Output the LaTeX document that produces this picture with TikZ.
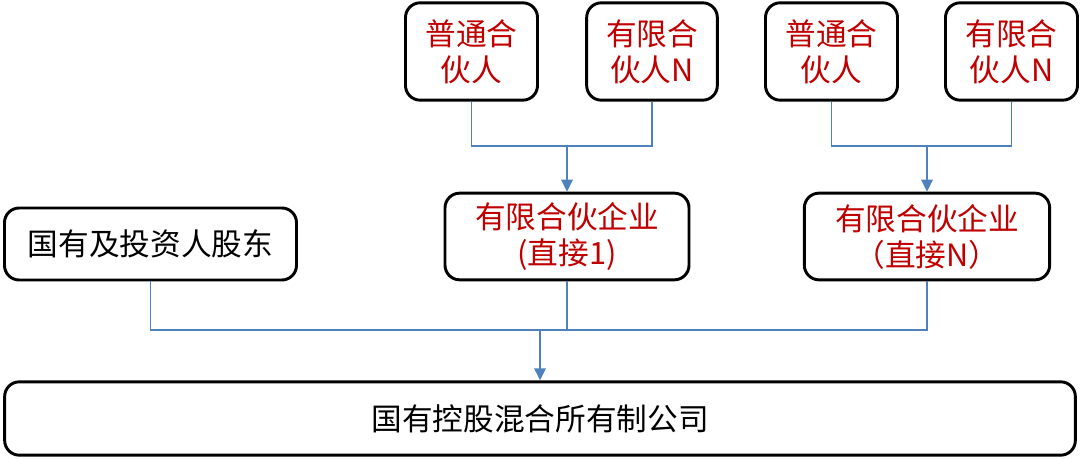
\documentclass[tikz,border=0pt]{standalone}
\usepackage{fontspec}
\newfontfamily\cjk{Noto Sans CJK SC}
\usetikzlibrary{arrows.meta}
\definecolor{linkblue}{HTML}{4F81BD}
\definecolor{redtxt}{HTML}{C00000}
\tikzset{
  box/.style={draw=black, line width=2.2pt, rounded corners=11pt, align=center,
    font=\cjk\fontsize{23}{27}\selectfont, inner sep=0pt, anchor=center},
  redbox/.style={box, text=redtxt},
  conn/.style={draw=linkblue, line width=1.1pt},
  arr/.style={draw=linkblue, line width=1.5pt, -{Triangle[length=9pt,width=8.5pt]}}
}
\begin{document}
\begin{tikzpicture}[x=0.75pt,y=-0.75pt]
\useasboundingbox (0,0) rectangle (1080,459);
\node[redbox, minimum width=99pt, minimum height=73pt] (gpa) at (471.5,51.5) {普通合\\伙人};
\node[redbox, minimum width=98pt, minimum height=73pt] (lpa) at (652,51.5) {有限合\\伙人N};
\node[redbox, minimum width=99pt, minimum height=73pt] (gpb) at (831.5,51.5) {普通合\\伙人};
\node[redbox, minimum width=99pt, minimum height=73pt] (lpb) at (1011.5,51.5) {有限合\\伙人N};
\node[box, minimum width=219pt, minimum height=54pt] (state) at (150.5,244) {国有及投资人股东};
\node[redbox, minimum width=183pt, minimum height=65pt] (enta) at (567,236.5) {有限合伙企业\\(直接1)};
\node[redbox, minimum width=184pt, minimum height=65pt] (entb) at (927,236.5) {有限合伙企业\\（直接N）};
\node[box, minimum width=803pt, minimum height=55pt] (corp) at (540,418.5) {国有控股混合所有制公司};
\coordinate (ja) at (567,146);
\coordinate (jb) at (927,146);
\coordinate (jc) at (540,330);
\draw[conn] (gpa.south) |- (ja) -| (lpa.south);
\draw[arr] (ja) -- (enta.north);
\draw[conn] (gpb.south) |- (jb) -| (lpb.south);
\draw[arr] (jb) -- (entb.north);
\draw[conn] (state.south) |- (jc) -| (entb.south);
\draw[conn] (enta.south) -- (enta.south |- jc);
\draw[arr] (jc) -- (corp.north);
\end{tikzpicture}
\end{document}
